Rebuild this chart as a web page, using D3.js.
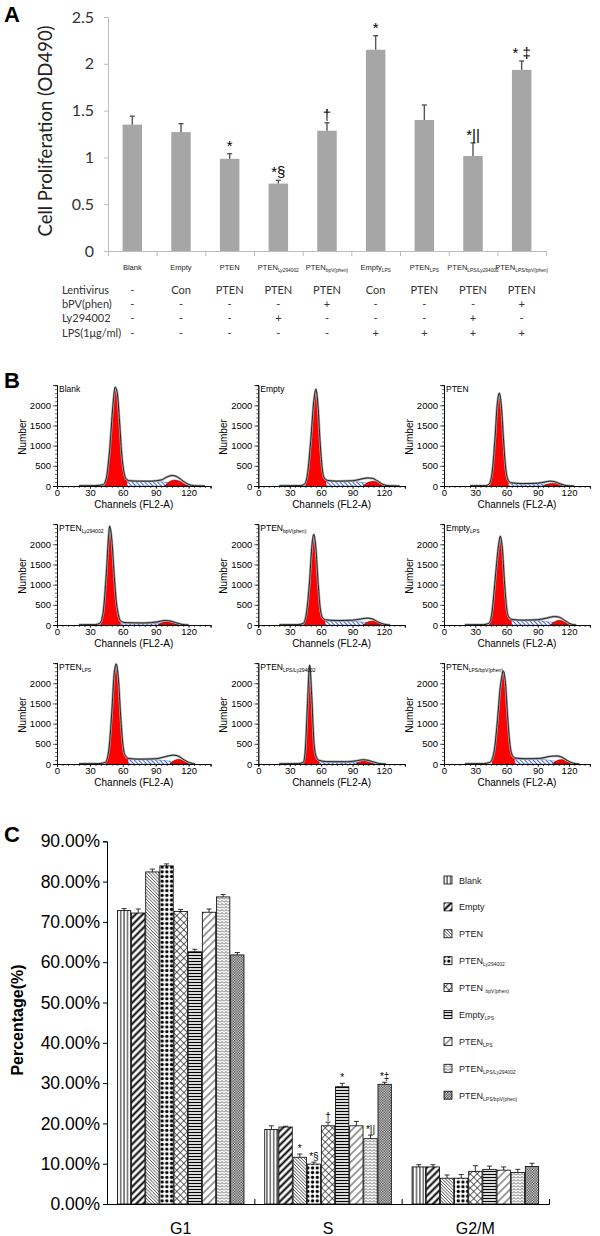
<!DOCTYPE html>
<html><head><meta charset="utf-8">
<script src="https://cdn.jsdelivr.net/npm/d3@7"></script>
<style>body{margin:0;background:#fff}svg{display:block}</style>
</head><body><svg id="c" width="600" height="1236"></svg>
<script>
// ---------------- Panel A data ----------------
const groupsA = ["Blank","Empty","PTEN","PTEN","PTEN","Empty","PTEN","PTEN","PTEN"];
const groupsASub = ["","","","Ly294002","bpV(phen)","LPS","LPS","LPS/Ly294002","LPS/bpV(phen)"];
const proliferation = [1.35,1.27,0.985,0.72,1.285,2.15,1.40,1.015,1.935];
const proliferationErr = [0.09,0.09,0.055,0.035,0.085,0.15,0.16,0.14,0.095];
const markA = ["","","*","*§","†","*","","*||","* ‡"];
const yTicksA = [0,0.5,1,1.5,2,2.5];
const tableRows = ["Lentivirus","bPV(phen)","Ly294002","LPS(1μg/ml)"];
const rowLentivirus = ["-","Con","PTEN","PTEN","PTEN","Con","PTEN","PTEN","PTEN"];
const rowBpv = ["-","-","-","-","+","-","-","-","+"];
const rowLy = ["-","-","-","+","-","-","-","+","-"];
const rowLps = ["-","-","-","-","-","+","+","+","+"];

// ---------------- Panel B data ----------------
const histTitle = ["Blank","Empty","PTEN","PTEN","PTEN","Empty","PTEN","PTEN","PTEN"];
const histSub = ["","","","Ly294002","bpV(phen)","LPS","LPS","LPS/Ly294002","LPS/bpV(phen)"];
const xTicksB = [0,30,60,90,120];
const yTicksB = [0,500,1000,1500,2000];
const histOutline = [
 [[20,5],[35,10],[42,30],[45,200],[48,900],[51,2000],[53,2450],[55,2300],[57,1600],[59,800],[61,350],[63,180],[66,130],[75,120],[85,120],[95,150],[100,220],[105,260],[110,220],[115,120],[120,40],[125,5],[135,0]],
 [[20,5],[40,10],[44,40],[47,300],[50,1100],[53,2100],[55,2400],[57,2000],[59,1100],[61,450],[63,200],[66,140],[75,120],[90,130],[98,170],[104,200],[109,190],[114,120],[119,40],[125,5],[135,0]],
 [[25,5],[40,10],[43,40],[46,300],[49,1200],[51,2000],[53,2300],[55,2000],[57,1200],[59,500],[61,180],[64,80],[75,60],[90,70],[97,100],[102,120],[107,100],[112,50],[118,10],[125,0]],
 [[20,5],[35,10],[39,40],[42,300],[45,1300],[47,2200],[48,2450],[50,2100],[52,1300],[54,600],[56,250],[58,100],[62,60],[80,50],[92,80],[98,110],[103,100],[108,60],[114,15],[120,0]],
 [[20,5],[38,10],[43,40],[46,300],[49,1100],[51,1900],[53,2250],[55,1900],[57,1100],[59,450],[61,200],[64,130],[75,110],[90,120],[98,150],[104,170],[109,150],[114,80],[120,20],[126,0]],
 [[20,5],[38,10],[43,40],[46,300],[49,1100],[52,1900],[54,2200],[56,1900],[58,1100],[60,450],[62,200],[65,140],[75,120],[90,130],[100,180],[106,210],[111,190],[116,110],[121,30],[127,0]],
 [[20,5],[38,10],[44,40],[47,300],[50,1300],[52,2200],[54,2480],[56,2100],[58,1200],[60,500],[62,220],[65,140],[75,120],[90,130],[100,190],[106,220],[111,190],[116,100],[121,30],[126,0]],
 [[20,5],[38,10],[43,40],[45,400],[47,1500],[49,2450],[51,1700],[53,600],[55,200],[58,90],[65,60],[85,55],[95,85],[100,105],[105,90],[110,50],[116,10],[122,0]],
 [[20,5],[38,10],[44,40],[48,300],[51,1000],[54,1900],[57,2300],[59,2000],[61,1200],[63,550],[65,250],[68,150],[78,130],[92,140],[102,190],[108,200],[113,170],[118,90],[124,20],[130,0]]
];
const histS = [
 [[44,0],[50,60],[60,110],[75,120],[90,110],[100,90],[108,60],[115,20],[120,0]],
 [[45,0],[51,60],[62,110],[80,115],[95,100],[105,70],[113,25],[119,0]],
 [[44,0],[52,40],[65,60],[90,55],[105,30],[115,0]],
 [[40,0],[48,30],[60,45],[85,40],[100,25],[110,0]],
 [[44,0],[50,50],[62,100],[85,100],[100,70],[110,30],[116,0]],
 [[44,0],[50,60],[62,110],[85,110],[100,80],[112,30],[118,0]],
 [[45,0],[52,60],[62,110],[85,110],[100,80],[112,30],[118,0]],
 [[42,0],[50,40],[65,55],[85,50],[100,25],[108,0]],
 [[46,0],[54,70],[66,120],[90,120],[104,80],[114,30],[120,0]]
];
const histG1Range = [[42,64],[45,65],[43,62],[38,58],[43,64],[43,65],[44,65],[42,58],[46,68]];
const histG2 = [
 [[98,0],[102,100],[107,150],[112,120],[117,40],[121,0]],
 [[100,0],[105,90],[110,120],[115,80],[120,20],[123,0]],
 [[95,0],[100,50],[104,70],[109,50],[115,0]],
 [[92,0],[96,60],[101,80],[106,50],[112,0]],
 [[100,0],[104,70],[109,100],[114,60],[119,0]],
 [[102,0],[106,80],[111,120],[116,70],[121,0]],
 [[103,0],[107,90],[111,120],[116,70],[121,0]],
 [[93,0],[97,55],[101,75],[106,45],[111,0]],
 [[104,0],[108,80],[113,110],[118,60],[123,0]]
];

// ---------------- Panel C data ----------------
const phases = ["G1","S","G2/M"];
const seriesC = ["Blank","Empty","PTEN","PTEN","PTEN ","Empty","PTEN","PTEN","PTEN"];
const seriesCSub = ["","","","Ly294002","bpV(phen)","LPS","LPS","LPS/Ly294002","LPS/bpV(phen)"];
const g1Pct = [72.8,72.2,82.4,83.9,72.6,62.6,72.4,76.2,61.8];
const g1Err = [0.5,1.0,0.7,0.5,0.5,0.6,0.8,0.6,0.6];
const sPct = [18.5,19.1,11.6,9.9,19.4,29.1,19.4,16.2,29.7];
const sErr = [0.9,0.2,0.8,0.5,0.9,0.85,1.1,0.9,0.5];
const g2mPct = [9.2,9.2,6.4,6.4,8.1,8.6,8.4,7.8,9.3];
const g2mErr = [0.55,0.55,0.8,0.9,1.4,0.8,0.8,0.8,0.8];
const sMarks = ["","","*","*§","†","*","","*||","*‡"];
const yTicksC = [0,10,20,30,40,50,60,70,80,90];

// ================= drawing =================
const svg = d3.select("#c");
const ARIAL = "'Liberation Sans', Arial, sans-serif";
const CAL = "Lato, 'Open Sans', sans-serif";

function subLabel(sel, main, sub, mainSize, subSize, dy) {
  sel.append("tspan").text(main).attr("font-size", mainSize);
  if (sub) sel.append("tspan").text(sub).attr("font-size", subSize).attr("dy", dy);
}

// panel letters
[["A",22],["B",388],["C",842]].forEach(([t,y]) => {
  svg.append("text").attr("x",4).attr("y",y).text(t)
    .attr("font-family",ARIAL).attr("font-weight","bold").attr("font-size",22);
});

// ---------- Panel A ----------
const xA = d3.scaleBand().domain(d3.range(9)).range([108,546]).paddingInner(0.6).paddingOuter(0.3);
const yA = d3.scaleLinear().domain([0,2.5]).range([251,17]);
const gA = svg.append("g");
const axA = gA.append("g").attr("transform","translate(108,0)")
  .call(d3.axisLeft(yA).tickValues(yTicksA).tickSize(4).tickPadding(10).tickFormat(d3.format("")));
axA.selectAll("path,line").attr("stroke","#bdbdbd");
axA.selectAll("text").attr("font-family",CAL).attr("font-size",16).attr("fill","#333");
const xBound = d3.scaleLinear().domain([0,9]).range([108,546]);
const axAx = gA.append("g").attr("transform","translate(0,251)")
  .call(d3.axisBottom(xBound).tickValues(d3.range(10)).tickSize(5).tickFormat(""));
axAx.selectAll("path,line").attr("stroke","#bdbdbd");

gA.selectAll("rect.bar").data(proliferation).join("rect")
  .attr("x",(d,i)=>xA(i)).attr("width",xA.bandwidth())
  .attr("y",d=>yA(d)).attr("height",d=>yA(0)-yA(d)).attr("fill","#a6a6a6");
proliferation.forEach((v,i)=>{
  const cx = xA(i)+xA.bandwidth()/2, top = yA(v+proliferationErr[i]);
  gA.append("line").attr("x1",cx).attr("x2",cx).attr("y1",yA(v)).attr("y2",top).attr("stroke","#555").attr("stroke-width",1.4);
  gA.append("line").attr("x1",cx-2.5).attr("x2",cx+2.5).attr("y1",top).attr("y2",top).attr("stroke","#555").attr("stroke-width",1.4);
  if (markA[i]) gA.append("text").attr("x",cx).attr("y",top-3).attr("text-anchor","middle")
    .attr("font-family",ARIAL).attr("font-size",15).attr("fill","#000").text(markA[i]);
  const t = gA.append("text").attr("x",cx).attr("y",270).attr("text-anchor","middle")
    .attr("font-family",ARIAL).attr("fill","#222");
  subLabel(t, groupsA[i], groupsASub[i], 7.5, 4.8, 1.5);
});
gA.append("text").attr("transform","translate(52,131) rotate(-90)").attr("text-anchor","middle")
  .attr("font-family",CAL).attr("font-size",18.5).attr("fill","#222").text("Cell Proliferation (OD490)");
const tableData = [rowLentivirus,rowBpv,rowLy,rowLps];
tableRows.forEach((r,k)=>{
  const y = 294 + k*14.2;
  gA.append("text").attr("x",62).attr("y",y).attr("font-family",CAL).attr("font-size",11).attr("fill","#333").text(r);
  tableData[k].forEach((v,i)=>{
    gA.append("text").attr("x",xA(i)+xA.bandwidth()/2).attr("y",y).attr("text-anchor","middle")
      .attr("font-family",CAL).attr("font-size",11).attr("fill","#333").text(v);
  });
});

// ---------- patterns ----------
const defs = svg.append("defs");
function pattern(id,w,h,rot){
  const p = defs.append("pattern").attr("id",id).attr("patternUnits","userSpaceOnUse").attr("width",w).attr("height",h);
  if (rot) p.attr("patternTransform",`rotate(${rot})`);
  p.append("rect").attr("width",w).attr("height",h).attr("fill","#fff");
  return p;
}
let p;
p = pattern("p0",3.4,10); p.append("line").attr("x1",1.7).attr("x2",1.7).attr("y1",0).attr("y2",10).attr("stroke","#000").attr("stroke-width",0.9);
p = pattern("p1",5,5,45); p.append("line").attr("x1",2.5).attr("x2",2.5).attr("y1",0).attr("y2",5).attr("stroke","#000").attr("stroke-width",2);
p = pattern("p2",2.3,4,-45); p.append("line").attr("x1",1.15).attr("x2",1.15).attr("y1",0).attr("y2",4).attr("stroke","#333").attr("stroke-width",0.7);
p = pattern("p3",4.7,4.7); p.append("circle").attr("cx",2.35).attr("cy",2.35).attr("r",1.65).attr("fill","#000");
p = pattern("p4",5,5,45); p.append("line").attr("x1",2.5).attr("x2",2.5).attr("y1",0).attr("y2",5).attr("stroke","#222").attr("stroke-width",0.7);
  p.append("line").attr("y1",2.5).attr("y2",2.5).attr("x1",0).attr("x2",5).attr("stroke","#222").attr("stroke-width",0.7);
p = pattern("p5",10,3); p.append("line").attr("y1",1.5).attr("y2",1.5).attr("x1",0).attr("x2",10).attr("stroke","#000").attr("stroke-width",1.3);
p = pattern("p6",5.5,5.5,45); p.append("line").attr("x1",2.75).attr("x2",2.75).attr("y1",0).attr("y2",5.5).attr("stroke","#111").attr("stroke-width",0.8);
p = pattern("p7",4,3); p.append("path").attr("d","M0,2.5 L2,0.5 L4,2.5").attr("fill","none").attr("stroke","#222").attr("stroke-width",0.7);
p = pattern("p8",2.6,2.6); p.append("rect").attr("width",1.3).attr("height",1.3).attr("fill","#222");
  p.append("rect").attr("x",1.3).attr("y",1.3).attr("width",1.3).attr("height",1.3).attr("fill","#222");
p = pattern("hS",3,3,-45); p.append("line").attr("x1",1.5).attr("x2",1.5).attr("y1",0).attr("y2",3).attr("stroke","#3e66d6").attr("stroke-width",1);

// ---------- Panel B ----------
const colX0 = [57,258.3,444], colPx = [1.097,1.047,1.042], rowBase = [486,625,764];
histOutline.forEach((outline,i)=>{
  const col = i%3, row = Math.floor(i/3);
  const x = d3.scaleLinear().domain([0,140]).range([colX0[col], colX0[col]+140*colPx[col]]);
  const y = d3.scaleLinear().domain([0,2500]).range([rowBase[row], rowBase[row]-100.9]);
  const g = svg.append("g");
  const area = d3.area().x(d=>x(d[0])).y0(y(0)).y1(d=>y(d[1])).curve(d3.curveMonotoneX);
  const line = d3.line().x(d=>x(d[0])).y(d=>y(d[1])).curve(d3.curveMonotoneX);
  g.append("path").attr("d",area(histS[i])).attr("fill","url(#hS)").attr("stroke","#3e66d6").attr("stroke-width",0.5);
  const cid = "clip"+i;
  defs.append("clipPath").attr("id",cid).append("rect")
    .attr("x",x(histG1Range[i][0])).attr("width",x(histG1Range[i][1])-x(histG1Range[i][0]))
    .attr("y",y(2600)).attr("height",y(0)-y(2600));
  g.append("path").attr("d",area(outline)).attr("clip-path",`url(#${cid})`).attr("fill","#ff0000");
  g.append("path").attr("d",area(histG2[i])).attr("fill","#ff0000").attr("stroke","#000").attr("stroke-width",0.4);
  g.append("path").attr("d",line(outline)).attr("fill","none").attr("stroke","#aaa").attr("stroke-width",2.4);
  g.append("path").attr("d",line(outline)).attr("fill","none").attr("stroke","#000").attr("stroke-width",0.8);
  // axes
  g.append("g").attr("transform",`translate(0,${y(0)})`)
    .call(d3.axisBottom(x).tickValues(d3.range(0,141,5)).tickSize(2).tickFormat(""));
  g.append("g").attr("transform",`translate(0,${y(0)})`)
    .call(d3.axisBottom(x).tickValues(xTicksB).tickSize(3).tickPadding(0).tickFormat(d3.format("d")));
  g.append("g").attr("transform",`translate(${x(0)},0)`)
    .call(d3.axisLeft(y).tickValues(d3.range(0,2501,100)).tickSize(2).tickFormat(""));
  g.append("g").attr("transform",`translate(${x(0)},0)`)
    .call(d3.axisLeft(y).tickValues(yTicksB).tickSize(4).tickPadding(2).tickFormat(d3.format("d")));
  g.selectAll(".domain").attr("stroke","#000").attr("stroke-width",0.8);
  g.selectAll(".tick line").attr("stroke","#000").attr("stroke-width",0.6);
  g.selectAll(".tick text").attr("font-family",ARIAL).attr("font-size",9.5).attr("fill","#000");
  g.append("text").attr("x",x(70)).attr("y",y(0)+22).attr("text-anchor","middle")
    .attr("font-family",ARIAL).attr("font-size",10).text("Channels (FL2-A)");
  g.append("text").attr("transform",`translate(${x(0)-31},${y(0)-49}) rotate(-90)`).attr("text-anchor","middle")
    .attr("font-family",ARIAL).attr("font-size",10).text("Number");
  const t = g.append("text").attr("x",x(0)+2).attr("y",y(2500)+7).attr("font-family",ARIAL);
  subLabel(t, histTitle[i], histSub[i], 8.5, 5, 1.5);
});

// ---------- Panel C ----------
const yC = d3.scaleLinear().domain([0,90]).range([1204,841.3]);
const xC = d3.scaleBand().domain(phases).range([107,549]);
const xIn = d3.scaleBand().domain(d3.range(9)).range([10,137.4]);
const gC = svg.append("g");
const patIds = ["p0","p1","p2","p3","p4","p5","p6","p7","p8"];
const dataC = [[g1Pct,g1Err],[sPct,sErr],[g2mPct,g2mErr]];
dataC.forEach(([vals,errs],k)=>{
  vals.forEach((v,i)=>{
    const x0 = xC(phases[k]) + xIn(i), w = xIn.bandwidth();
    const cx = x0 + w/2, top = yC(v+errs[i]);
    gC.append("line").attr("x1",cx).attr("x2",cx).attr("y1",yC(v)).attr("y2",top).attr("stroke","#000").attr("stroke-width",0.8);
    gC.append("line").attr("x1",cx-2.5).attr("x2",cx+2.5).attr("y1",top).attr("y2",top).attr("stroke","#000").attr("stroke-width",0.8);
    gC.append("rect").attr("x",x0+0.4).attr("width",w-0.8).attr("y",yC(v)).attr("height",yC(0)-yC(v))
      .attr("fill",`url(#${patIds[i]})`).attr("stroke","#000").attr("stroke-width",0.8);
    if (k===1 && sMarks[i]) gC.append("text").attr("x",cx).attr("y",top-2).attr("text-anchor","middle")
      .attr("font-family",ARIAL).attr("font-size",10).attr("fill","#000").text(sMarks[i]);
  });
});
const ayC = gC.append("g").attr("transform","translate(107,0)")
  .call(d3.axisLeft(yC).tickValues(yTicksC).tickSize(4).tickPadding(3).tickFormat(d=>d.toFixed(2)+"%"));
ayC.selectAll("text").attr("font-family",ARIAL).attr("font-size",17.5).attr("fill","#000");
const axCb = d3.scaleLinear().domain([0,3]).range([107,549]);
gC.append("g").attr("transform","translate(0,1204)")
  .call(d3.axisTop(axCb).tickValues([1,2,3]).tickSize(5).tickFormat(""));
gC.selectAll(".domain").attr("stroke","#000").attr("stroke-width",1);
gC.selectAll(".tick line").attr("stroke","#000");
phases.forEach(ph=>{
  gC.append("text").attr("x",xC(ph)+xC.bandwidth()/2).attr("y",1234).attr("text-anchor","middle")
    .attr("font-family",ARIAL).attr("font-size",16).text(ph);
});
gC.append("text").attr("transform","translate(23,1020) rotate(-90)").attr("text-anchor","middle")
  .attr("font-family",ARIAL).attr("font-weight","bold").attr("font-size",16).text("Percentage(%)");
// legend
seriesC.forEach((s,i)=>{
  const cy = 880 + i*26.9;
  gC.append("rect").attr("x",444).attr("y",cy-4).attr("width",8).attr("height",8)
    .attr("fill",`url(#${patIds[i]})`).attr("stroke","#000").attr("stroke-width",0.8);
  const t = gC.append("text").attr("x",459).attr("y",cy+3.5).attr("font-family",ARIAL).attr("fill","#222");
  subLabel(t, s, seriesCSub[i], 9, 5, 2);
});
</script></body></html>
